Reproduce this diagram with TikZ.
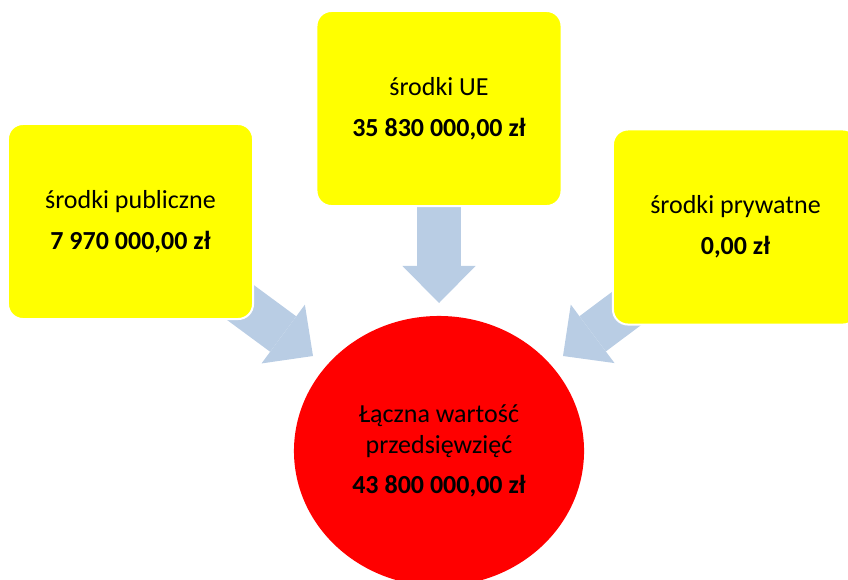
\documentclass[tikz,border=0pt]{standalone}
\usepackage{fontspec}
\setmainfont{Carlito}
\usepackage{xcolor}
\definecolor{zolty}{RGB}{255,255,0}
\definecolor{czerwony}{RGB}{255,0,0}
\definecolor{niebieski}{RGB}{185,205,228}
\usetikzlibrary{arrows.meta,shapes.geometric,backgrounds}
\tikzset{
  fund/.style={rectangle, draw=white, line width=0.05cm, fill=zolty, rounded corners=0.375cm, minimum width=6.125cm, minimum height=4.875cm, text centered, align=center, inner sep=0pt, font=\fontsize{18.5}{22}\selectfont},
  total/.style={ellipse, fill=czerwony, minimum width=7.25cm, minimum height=6.75cm, inner sep=0pt, align=center, font=\fontsize{18.5}{21.5}\selectfont},
  flow/.style={draw=niebieski, line width=1.1cm, -{Triangle[length=0.925cm, width=1.825cm, line width=0pt 0]}},
}
\begin{document}
\begin{tikzpicture}[x=0.025cm, y=-0.025cm]
  \useasboundingbox (0,0) rectangle (848,579);

  %zrodla finansowania
  \node[fund] (pub) at (130.5,221.5) {środki publiczne\\[7pt]\textbf{7 970 000,00 zł}};
  \node[fund] (ue) at (439,108.5) {środki UE\\[7pt]\textbf{35 830 000,00 zł}};
  \node[fund] (priv) at (735.5,227) {środki prywatne\\[7pt]\textbf{0,00 zł}};

  %wartosc laczna
  \node[total] (sum) at (439,451) {Łączna wartość\\przedsięwzięć\\[7pt]\textbf{43 800 000,00 zł}};

  \coordinate (pubTip) at (313,356);
  \coordinate (ueTip) at (439,303);
  \coordinate (privTip) at (563,356);

  \begin{scope}[on background layer]
  \path[flow] (pub.center) -- (pubTip);
  \path[flow] (ue.south) -- (ueTip);
  \path[flow] (priv.center) -- (privTip);
  \end{scope}
\end{tikzpicture}
\end{document}
